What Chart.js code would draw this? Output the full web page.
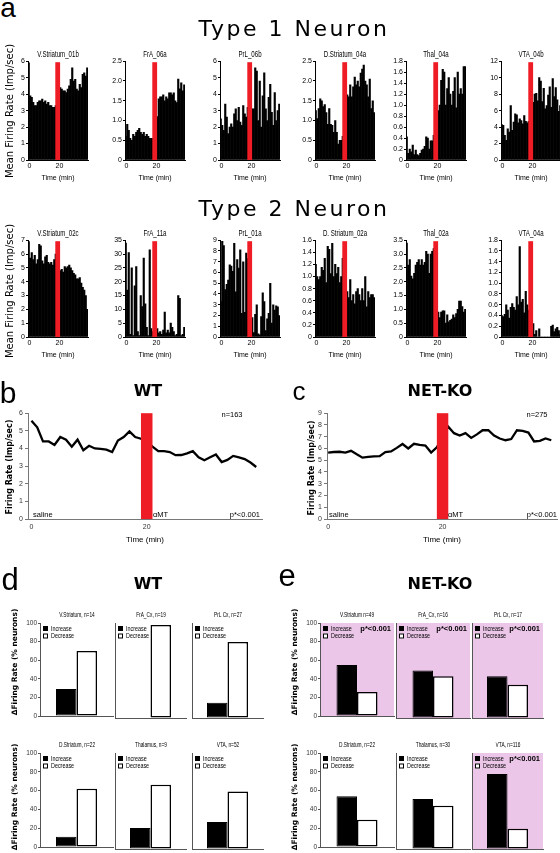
<!DOCTYPE html>
<html>
<head>
<meta charset="utf-8">
<script src="https://cdn.jsdelivr.net/npm/chart.js@4.4.1/dist/chart.umd.min.js"></script>
<style>
html, body { margin: 0; padding: 0; background: #fff; }
#fig { position: relative; width: 560px; height: 853px; overflow: hidden; }
canvas { position: absolute; }
.t { position: absolute; white-space: nowrap; color: #000; transform: translate(-50%, -50%); }
</style>
</head>
<body>
<div id="fig"></div>
<script>
// ---- panel a: single neuron histograms (1 min bins, 40 bins) ----
const timeTicks = [0, 20];
const stimWindow = [17.2, 20.4];

const type1Names = ['V.Striatum_01b', 'FrA_06a', 'PrL_06b', 'D.Striatum_04a', 'Thal_04a', 'VTA_04b'];
const type1Max = [6, 2.5, 6, 2.5, 1.8, 12];
const type1Step = [1, 0.5, 1, 0.5, 0.2, 2];

const vStr01b = [5.9, 3.9, 3.8, 3.5, 3.3, 3.3, 3.5, 3.6, 3.6, 3.7, 3.5, 3.6, 3.4, 3.5, 3.3, 3.3, 3.2, 3.2, 3.3, 3.8,
                 4.3, 4.4, 4.3, 4.2, 4.2, 4.1, 4.3, 4.5, 4.9, 5.6, 4.8, 4.9, 4.3, 4.2, 4.6, 4.4, 5.2, 5.3, 5.1, 5.6];
const frA06a = [0.6, 0.9, 0.75, 0.55, 0.5, 0.65, 0.6, 0.7, 0.75, 0.8, 0.7, 0.65, 0.7, 0.6, 0.65, 0.6, 0.55, 0.55, 0.55, 0.6,
                1.2, 1.1, 1.55, 1.6, 1.6, 1.65, 1.5, 1.6, 1.55, 1.7, 1.7, 1.65, 1.7, 1.5, 1.45, 2.05, 1.8, 1.95, 1.75, 1.9];
const prl06b = [2.5, 2.1, 1.8, 3.4, 2.6, 1.6, 2.0, 2.2, 2.0, 2.8, 3.1, 2.4, 3.2, 2.3, 2.1, 3.3, 2.8, 2.6, 3.2, 2.9,
                3.0, 3.1, 3.1, 5.6, 5.4, 2.4, 4.8, 2.0, 3.9, 5.3, 3.1, 2.4, 3.8, 4.6, 2.9, 2.1, 4.1, 2.4, 3.0, 3.4];
const dStr04a = [1.25, 1.05, 1.3, 1.55, 1.5, 1.35, 1.4, 1.2, 0.9, 1.3, 0.9, 0.88, 0.7, 1.0, 0.7, 0.4, 0.5, 0.5, 0.6, 0.9,
                 1.4, 1.65, 1.6, 1.9, 1.6, 1.85, 2.1, 1.9, 2.0, 1.85, 2.2, 2.3, 2.4, 2.0, 1.9, 1.6, 2.05, 1.3, 1.5, 1.2];
const thal04a = [0.42, 0.12, 0.2, 0.15, 0.27, 0.1, 0.18, 0.1, 0.08, 0.12, 0.18, 0.2, 0.25, 0.42, 0.4, 0.2, 0.35, 0.35, 0.45, 0.6,
                 1.25, 0.9, 1.0, 1.45, 1.65, 1.6, 1.0, 1.3, 1.5, 1.2, 1.0, 1.25, 1.5, 0.95, 1.6, 1.2, 1.3, 1.2, 1.7, 1.7];
const vta04b = [4.3, 4.2, 3.0, 2.4, 3.8, 3.4, 6.6, 3.6, 4.6, 5.6, 5.5, 4.5, 5.0, 4.8, 4.4, 5.4, 4.7, 4.5, 4.7, 4.6,
                5.0, 7.0, 8.0, 8.1, 7.2, 10.0, 9.6, 7.1, 8.7, 6.2, 6.6, 7.9, 8.9, 6.4, 9.9, 7.7, 8.8, 7.3, 5.9, 6.6];

const type2Names = ['V.Striatum_02c', 'FrA_11a', 'PrL_01a', 'D. Striatum_02a', 'Thal_02a', 'VTA_04a'];
const type2Max = [7, 35, 9, 1.6, 3.5, 1.8];
const type2Step = [1, 5, 1, 0.2, 0.5, 0.2];

const vStr02c = [6.9, 5.7, 6.1, 5.6, 5.9, 5.3, 5.6, 6.7, 6.6, 5.5, 5.3, 5.8, 5.9, 5.4, 5.3, 5.4, 5.2, 5.6, 6.0, 5.2,
                 4.8, 4.8, 4.9, 4.7, 5.1, 5.0, 5.1, 5.2, 5.0, 4.8, 4.6, 4.5, 4.2, 4.2, 4.3, 3.9, 3.6, 3.4, 3.0, 2.0];
const frA11a = [34, 17, 30.5, 1, 25, 0.5, 18.5, 25.5, 2, 0.5, 15, 11, 28.5, 12, 3.5, 0.5, 31.5, 3, 2, 3,
                4.5, 3, 1.5, 2, 1, 2.5, 9, 1.5, 2.5, 1.5, 5, 3.5, 2, 0.5, 1, 15, 14, 0.5, 1, 3.5];
const prl01a = [3.3, 8.9, 8.5, 4.4, 4.9, 5.3, 6.7, 6.6, 6.1, 8.7, 4.2, 7.2, 6.4, 8.1, 2.2, 7.0, 2.3, 7.8, 7.3, 4.0,
                5.1, 1.8, 0.4, 2.1, 3.0, 0.3, 0.2, 1.9, 4.1, 3.3, 0.6, 1.7, 2.2, 5.0, 1.3, 3.0, 2.5, 2.9, 2.8, 2.0];
const dStr02a = [1.2, 1.0, 0.95, 1.0, 1.15, 1.1, 1.3, 0.9, 1.5, 1.45, 1.05, 1.55, 1.0, 1.2, 1.05, 1.15, 0.9, 1.0, 1.3, 1.1,
                 1.0, 0.75, 0.65, 0.95, 0.6, 0.7, 0.55, 0.75, 0.8, 0.7, 0.6, 0.8, 0.6, 1.0, 0.5, 0.75, 0.65, 0.7, 0.7, 0.65];
const thal02a = [3.4, 2.6, 2.8, 2.2, 2.1, 2.3, 2.6, 2.7, 2.8, 2.6, 2.8, 2.6, 2.7, 3.1, 3.0, 2.3, 3.0, 3.1, 3.2, 3.0,
                 2.0, 0.9, 0.7, 0.9, 0.95, 0.95, 0.5, 0.8, 0.55, 0.6, 0.65, 0.8, 0.7, 0.85, 1.0, 1.3, 1.3, 1.1, 0.9, 1.0];
const vta04a = [0.4, 0.38, 0.42, 0.6, 0.5, 0.35, 0.55, 0.62, 0.55, 0.5, 0.75, 0.6, 1.68, 0.65, 0.7, 0.45, 0.85, 0.6, 0.5, 0.3,
                0.25, 0.25, 0.05, 0.12, 0, 0.15, 0, 0, 0, 0, 0, 0, 0, 0.2, 0.22, 0.1, 0.15, 0.18, 0.12, 0.05];

const type1Values = [vStr01b, frA06a, prl06b, dStr04a, thal04a, vta04b];
const type2Values = [vStr02c, frA11a, prl01a, dStr02a, thal02a, vta04a];

// ---- panels b, c: population average (per minute) ----
const avgStimWindow = [19, 21];
const wtRate = [5.57, 5.2, 4.4, 4.4, 4.2, 4.65, 4.5, 4.1, 4.5, 3.9, 4.15, 4.0, 3.98, 3.93, 3.8, 4.45, 4.65, 4.97, 4.65, 4.55,
                4.4, 4.1, 3.85, 3.85, 3.8, 3.62, 3.63, 3.72, 3.85, 3.5, 3.33, 3.5, 3.66, 3.23, 3.35, 3.58, 3.5, 3.4, 3.2, 2.95];
const koRate = [5.65, 5.7, 5.72, 5.65, 5.8, 5.5, 5.22, 5.28, 5.33, 5.35, 5.7, 5.75, 6.05, 6.38, 6.0, 6.4, 6.3, 6.25, 5.65, 6.1,
                7.0, 7.85, 7.3, 7.1, 7.3, 6.9, 7.2, 7.55, 7.55, 7.1, 6.85, 6.7, 6.8, 7.55, 7.5, 7.35, 6.6, 6.65, 6.85, 6.7];

// ---- panels d, e: % neurons changing ----
const wtRegions = ['V.Striatum, n=14', 'FrA_Cx, n=19', 'PrL Cx, n=27', 'D.Striatum, n=22', 'Thalamus, n=9', 'VTA, n=52'];
const wtIncrease = [29, 0, 16, 11, 22, 28];
const wtDecrease = [70, 98, 80, 62, 67, 60];
const koRegions = ['V.Striatum n=49', 'FrA_Cx, n=16', 'PrL Cx, n=17', 'D.Striatum, n=22', 'Thalamus, n=30', 'VTA, n=116'];
const koIncrease = [55, 50, 44, 54, 52, 78];
const koDecrease = [26, 44, 35, 29, 45, 21];
const koSignificant = [true, true, true, false, false, true];
const pctTicks = [0, 20, 40, 60, 80, 100];

// ---- helpers ----
const plain = "'Liberation Sans', Arial, sans-serif";
const gothic = "'DejaVu Sans', sans-serif";
const RED = '#ee1c24';
const PINK = '#ecc6e8';

Chart.defaults.animation = false;
Chart.defaults.color = '#000';
Chart.defaults.events = [];

const fig = document.getElementById('fig');

function makeCanvas(left, top, w, h) {
    const c = document.createElement('canvas');
    c.width = w;
    c.height = h;
    c.style.left = left + 'px';
    c.style.top = top + 'px';
    c.style.width = w + 'px';
    c.style.height = h + 'px';
    fig.appendChild(c);
    return c;
}

function addText(text, x, y, font, extra) {
    const d = document.createElement('div');
    d.className = 't';
    d.textContent = text;
    d.style.left = x + 'px';
    d.style.top = y + 'px';
    d.style.font = font;
    d.style.lineHeight = '1';
    if (extra) {
        Object.assign(d.style, extra);
    }
    fig.appendChild(d);
}

// condensed look: the narrow faces are not installed, so squeeze the text
function addNarrow(text, x, y, size, squeeze) {
    addText(text, x, y, size + 'px ' + plain, { transform: 'translate(-50%, -50%) scaleX(' + squeeze + ')' });
}

const stimBand = {
    id: 'stimBand',
    afterDatasetsDraw(chart, args, opts) {
        const { ctx, chartArea, scales } = chart;
        const x0 = scales.x.getPixelForValue(opts.range[0]);
        const x1 = scales.x.getPixelForValue(opts.range[1]);
        ctx.save();
        ctx.fillStyle = RED;
        ctx.fillRect(x0, chartArea.top + (opts.inset || 0), x1 - x0, chartArea.bottom - chartArea.top - (opts.inset || 0));
        ctx.restore();
    }
};

const panelDecor = {
    id: 'panelDecor',
    beforeDraw(chart, args, opts) {
        if (!opts.significant) {
            return;
        }
        const { ctx, chartArea: a } = chart;
        ctx.save();
        ctx.fillStyle = PINK;
        ctx.fillRect(a.left, a.top, a.right - a.left, a.bottom - a.top);
        ctx.restore();
    },
    afterDraw(chart, args, opts) {
        const { ctx, chartArea: a } = chart;
        ctx.save();
        ctx.textBaseline = 'middle';
        chart.data.datasets.forEach((ds, i) => {
            const bx = a.left + 3;
            const by = a.top + 3 + i * 7.5;
            ctx.fillStyle = ds.backgroundColor;
            ctx.fillRect(bx, by, 5, 5);
            ctx.strokeStyle = '#000';
            ctx.lineWidth = 1;
            ctx.strokeRect(bx + 0.5, by + 0.5, 4, 4);
            ctx.save();
            ctx.translate(bx + 8, by + 2.8);
            ctx.scale(0.72, 1);
            ctx.font = '7.5px ' + plain;
            ctx.fillStyle = '#000';
            ctx.fillText(ds.label, 0, 0);
            ctx.restore();
        });
        if (opts.significant) {
            ctx.font = 'bold 7.5px ' + plain;
            ctx.textAlign = 'right';
            ctx.fillStyle = '#000';
            ctx.fillText('p*<0.001', a.right - 3, a.top + 6);
        }
        ctx.restore();
    }
};

// ---- histogram (panel a) ----
const HIST_W = 60;

function histChart(name, values, yMax, yStep, left, top, height) {
    const canvas = makeCanvas(left - 16, top - 5, 16 + HIST_W + 2, 5 + height + 22);
    new Chart(canvas, {
        type: 'bar',
        data: {
            datasets: [{
                data: values.map((v, i) => ({ x: i - 0.5, y: v })),
                backgroundColor: '#000',
                borderWidth: 0,
                barPercentage: 1,
                categoryPercentage: 1
            }]
        },
        options: {
            responsive: false,
            layout: { padding: { top: 5, right: 2, left: 0, bottom: 0 } },
            plugins: {
                legend: { display: false },
                tooltip: { enabled: false },
                stimBand: { range: stimWindow, inset: 1 }
            },
            scales: {
                x: {
                    type: 'linear',
                    min: -1,
                    max: 39,
                    offset: false,
                    afterBuildTicks: s => { s.ticks = timeTicks.map(v => ({ value: v })); },
                    afterFit: s => { s.height = 22; },
                    grid: { display: false, drawTicks: false },
                    border: { color: '#000', width: 1 },
                    ticks: { font: { family: plain, size: 7 }, color: '#000', padding: 2, maxRotation: 0, autoSkip: false },
                    title: { display: true, text: 'Time (min)', font: { family: plain, size: 7 }, color: '#000', padding: 0 }
                },
                y: {
                    min: 0,
                    max: yMax,
                    afterFit: s => { s.width = 16; },
                    grid: { drawOnChartArea: false, drawTicks: true, tickLength: 2, color: '#000' },
                    border: { color: '#000', width: 1 },
                    ticks: { stepSize: yStep, autoSkip: false, font: { family: plain, size: 7 }, color: '#000', padding: 1 }
                }
            }
        },
        plugins: [stimBand]
    });
    addNarrow(name, left + HIST_W / 2, top - 7, 9, 0.68);
}

const histLefts = [28, 125, 220, 315, 406, 501];

type1Values.forEach((vals, i) => histChart(type1Names[i], vals, type1Max[i], type1Step[i], histLefts[i], 61, 99));
type2Values.forEach((vals, i) => histChart(type2Names[i], vals, type2Max[i], type2Step[i], histLefts[i], 240, 97));

// ---- average line charts (panels b, c) ----
function rateChart(values, yMax, xMin, left, right) {
    const top = 412;
    const height = 107;
    const canvas = makeCanvas(left - 16, top - 5, 16 + (right - left) + 3, 5 + height + 26);
    new Chart(canvas, {
        type: 'line',
        data: {
            datasets: [{
                data: values.map((v, i) => ({ x: i, y: v })),
                borderColor: '#000',
                borderWidth: 2.3,
                pointRadius: 0,
                tension: 0,
                fill: false
            }]
        },
        options: {
            responsive: false,
            layout: { padding: { top: 5, right: 3, left: 0, bottom: 0 } },
            plugins: {
                legend: { display: false },
                tooltip: { enabled: false },
                stimBand: { range: avgStimWindow, inset: 0 }
            },
            scales: {
                x: {
                    type: 'linear',
                    min: xMin,
                    max: 40,
                    afterBuildTicks: s => { s.ticks = timeTicks.map(v => ({ value: v })); },
                    afterFit: s => { s.height = 26; },
                    grid: { display: false, drawTicks: false },
                    border: { color: '#777', width: 1 },
                    ticks: { font: { family: plain, size: 7 }, color: '#333', padding: 4, maxRotation: 0, autoSkip: false },
                    title: { display: true, text: 'Time (min)', font: { family: plain, size: 8 }, color: '#000', padding: 0 }
                },
                y: {
                    min: 0,
                    max: yMax,
                    afterFit: s => { s.width = 16; },
                    grid: { drawOnChartArea: false, drawTicks: true, tickLength: 3, color: '#777' },
                    border: { color: '#777', width: 1 },
                    ticks: { stepSize: 1, autoSkip: false, font: { family: plain, size: 7 }, color: '#333', padding: 2 }
                }
            }
        },
        plugins: [stimBand]
    });
}

rateChart(wtRate, 6, -0.6, 28, 262);
rateChart(koRate, 9, -0.2, 327, 557);

// ---- % neuron bar charts (panels d, e) ----
function pctChart(title, inc, dec, significant, showTicks, left, width, top, height) {
    const canvas = makeCanvas(left - 16, top - 5, 16 + width + 2, 5 + height + 3);
    const catPct = 41 / width;
    new Chart(canvas, {
        type: 'bar',
        data: {
            labels: [''],
            datasets: [
                { label: 'Increase', data: [inc], backgroundColor: '#000', borderColor: '#000', borderWidth: 1,
                  borderSkipped: false, barPercentage: 1, categoryPercentage: catPct },
                { label: 'Decrease', data: [dec], backgroundColor: '#fff', borderColor: '#000', borderWidth: 1.5,
                  borderSkipped: false, barPercentage: 1, categoryPercentage: catPct }
            ]
        },
        options: {
            responsive: false,
            layout: { padding: { top: 5, right: 2, left: 0, bottom: 0 } },
            plugins: {
                legend: { display: false },
                tooltip: { enabled: false },
                panelDecor: { significant: significant }
            },
            scales: {
                x: {
                    afterFit: s => { s.height = 3; },
                    grid: { display: false, drawTicks: false },
                    border: { color: '#555', width: 1 },
                    ticks: { display: false }
                },
                y: {
                    min: 0,
                    max: 100,
                    afterBuildTicks: s => { s.ticks = pctTicks.map(v => ({ value: v })); },
                    afterFit: s => { s.width = 16; },
                    grid: { drawOnChartArea: false, drawTicks: showTicks, tickLength: 2, color: '#555' },
                    border: { color: '#555', width: 1 },
                    ticks: { display: showTicks, font: { family: plain, size: 6.5 }, color: '#333', padding: 1 }
                }
            }
        },
        plugins: [panelDecor]
    });
    addNarrow(title, left + width / 2, top - 8, 8, 0.6);
}

const dLefts = [40, 115, 192];
const dWidths = [73, 71, 71];
const eLefts = [320, 396, 472];
const eWidths = [74, 74, 71];
const rowTops = [623, 753];
const rowHeights = [95, 96];

wtRegions.forEach((name, i) => {
    const r = Math.floor(i / 3), c = i % 3;
    pctChart(name, wtIncrease[i], wtDecrease[i], false, c === 0, dLefts[c], dWidths[c], rowTops[r], rowHeights[r]);
});
koRegions.forEach((name, i) => {
    const r = Math.floor(i / 3), c = i % 3;
    pctChart(name, koIncrease[i], koDecrease[i], koSignificant[i], c === 0, eLefts[c], eWidths[c], rowTops[r], rowHeights[r]);
});

// ---- figure text ----
const vertical = { transform: 'translate(-50%, -50%) rotate(-90deg)' };
addText('a', 8, 8, '28px ' + plain);
addText('Type 1 Neuron', 294, 29, '22px ' + gothic, { letterSpacing: '2.5px' });
addText('Type 2 Neuron', 294, 209, '22px ' + gothic, { letterSpacing: '2.5px' });
addText('Mean Firing Rate (Imp/sec)', 10, 111, '10px ' + gothic, vertical);
addText('Mean Firing Rate (Imp/sec)', 10, 291, '10px ' + gothic, vertical);

addText('b', 8, 393, '30px ' + plain);
addText('WT', 148, 391, 'bold 16px ' + gothic);
addText('c', 299, 391, '26px ' + plain);
addText('NET-KO', 440, 391, 'bold 16px ' + gothic);
addText('Firing Rate (Imp/sec)', 10, 467, 'bold 8px ' + gothic, vertical);
addText('Firing Rate (Imp/sec)', 312, 468, 'bold 8px ' + gothic, vertical);

addText('n=163', 232, 415, '7.5px ' + plain);
addText('saline', 33, 515, '7.5px ' + plain, { transform: 'translate(0, -50%)' });
addText('αMT', 153, 515, '7.5px ' + plain, { transform: 'translate(0, -50%)' });
addText('p*<0.001', 260, 515, '7.5px ' + plain, { transform: 'translate(-100%, -50%)' });
addText('n=275', 537, 415, '7.5px ' + plain);
addText('saline', 329, 515, '7.5px ' + plain, { transform: 'translate(0, -50%)' });
addText('αMT', 448, 515, '7.5px ' + plain, { transform: 'translate(0, -50%)' });
addText('p*<0.001', 557, 515, '7.5px ' + plain, { transform: 'translate(-100%, -50%)' });

addText('d', 10, 579, '31px ' + plain);
addText('WT', 148, 584, 'bold 16px ' + gothic);
addText('e', 287, 575, '31px ' + plain);
addText('NET-KO', 440, 584, 'bold 16px ' + gothic);
addText('ΔFiring Rate (% neurons)', 15, 662, 'bold 7.5px ' + gothic, vertical);
addText('ΔFiring Rate (% neurons)', 15, 797, 'bold 7.5px ' + gothic, vertical);
addText('ΔFiring Rate (% neurons)', 295, 662, 'bold 7.5px ' + gothic, vertical);
addText('ΔFiring Rate (% neurons)', 295, 797, 'bold 7.5px ' + gothic, vertical);
</script>
</body>
</html>
